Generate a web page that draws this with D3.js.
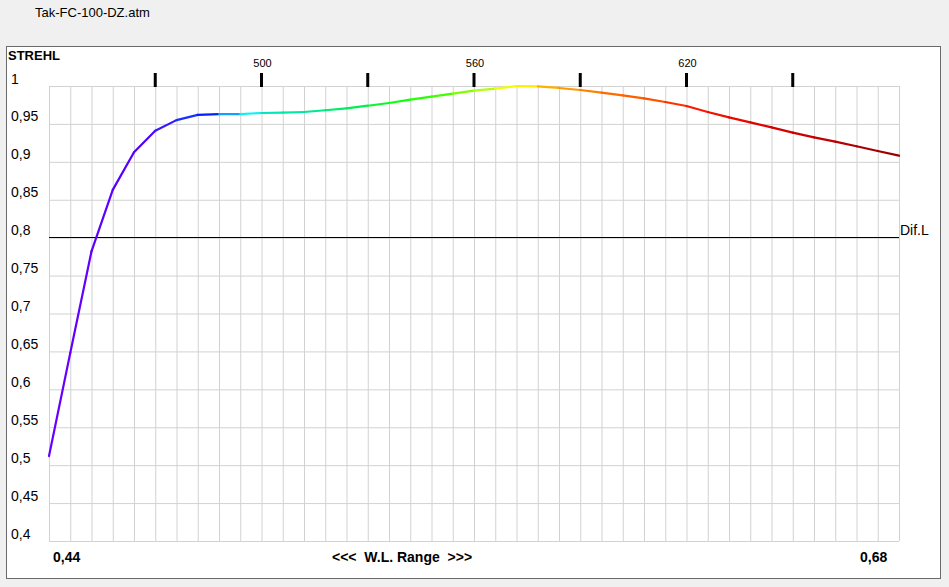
<!DOCTYPE html>
<html>
<head>
<meta charset="utf-8">
<script src="https://cdn.jsdelivr.net/npm/d3@7"></script>
<style>
  html, body { margin: 0; padding: 0; background: #f0f0f0; }
  svg { display: block; font-family: "Liberation Sans", Arial, sans-serif; }
  .grid line { stroke: #d2d2d2; stroke-width: 1; }
  .grid .domain { display: none; }
  .ylab .domain, .ylab line { display: none; }
  .ylab text { font-size: 14px; fill: #000; }
</style>
</head>
<body>
<div id="chart"></div>
<script>
(function () {
  const title = "Tak-FC-100-DZ.atm";

  // wavelength samples (nm) and Strehl ratio at each
  const wavelengths = [440, 446, 452, 458, 464, 470, 476, 482, 488, 494,
    500, 506, 512, 518, 524, 530, 536, 542, 548, 554,
    560, 566, 572, 578, 584, 590, 596, 602, 608, 614,
    620, 626, 632, 638, 644, 650, 656, 662, 668, 674, 680];
  const strehl = [0.512, 0.648, 0.782, 0.863, 0.9126, 0.941, 0.955, 0.962, 0.963, 0.963,
    0.9644, 0.9648, 0.9657, 0.968, 0.9706, 0.974, 0.9776, 0.982, 0.9859, 0.9899,
    0.9938, 0.9965, 0.9998, 0.9995, 0.9974, 0.9947, 0.9912, 0.9877, 0.9837, 0.9789,
    0.9736, 0.9657, 0.9587, 0.9521, 0.9455, 0.9385, 0.9323, 0.9266, 0.9205, 0.9143, 0.9081];

  const yTicks = [1, 0.95, 0.9, 0.85, 0.8, 0.75, 0.7, 0.65, 0.6, 0.55, 0.5, 0.45, 0.4];
  const yTickLabels = ["1", "0,95", "0,9", "0,85", "0,8", "0,75", "0,7", "0,65", "0,6", "0,55", "0,5", "0,45", "0,4"];
  const topTicks = [470, 500, 530, 560, 590, 620, 650];
  const topTickLabels = [500, 560, 620];
  const diffLimit = 0.8;

  // spectrum colour stops used for the curve
  const stopNm = [443, 467, 473, 479, 485, 491, 497, 503, 515, 527, 539, 551, 557, 563, 569, 575,
    581, 587, 593, 599, 611, 617, 623, 629, 641, 659, 677];
  const stopColors = ["#6800ff", "#5000ff", "#3418ff", "#1a30ff", "#0020ff", "#10a0ff", "#10f0f0", "#00e8b8",
    "#00e890", "#00f050", "#10ff10", "#40ff00", "#80ff00", "#b0ff10", "#eeff00", "#ffee00",
    "#ffb000", "#ff9900", "#ff8000", "#ff6a00", "#ff5000", "#ff3000", "#ff1800", "#f01000",
    "#e00000", "#c00000", "#9c0000"];

  const width = 949, height = 587;
  const plot = { left: 49, right: 899, top: 86, bottom: 541 };

  const svg = d3.select("#chart").append("svg")
    .attr("width", width)
    .attr("height", height);

  svg.append("text")
    .attr("x", 35).attr("y", 17)
    .style("font-size", "13px")
    .text(title);

  // white panel
  svg.append("rect")
    .attr("x", 6.5).attr("y", 46.5)
    .attr("width", 934).attr("height", 532)
    .attr("fill", "#fff")
    .attr("stroke", "#6a6a6a");

  const x = d3.scaleLinear().domain([440, 680]).range([plot.left, plot.right]);
  const y = d3.scaleLinear().domain([0.4, 1]).range([plot.bottom, plot.top]);
  const spectrum = d3.scaleLinear().domain(stopNm).range(stopColors).clamp(true);

  // grid
  svg.append("g")
    .attr("class", "grid")
    .attr("transform", `translate(${plot.left},0)`)
    .call(d3.axisLeft(y).tickValues(yTicks).tickSize(-(plot.right - plot.left)).tickFormat(""));

  svg.append("g")
    .attr("class", "grid")
    .attr("transform", `translate(0,${plot.bottom})`)
    .call(d3.axisBottom(x).tickValues(wavelengths).tickSize(-(plot.bottom - plot.top)).tickFormat(""));

  // y labels, left aligned
  const yl = svg.append("g")
    .attr("class", "ylab")
    .attr("transform", `translate(${plot.left},0)`)
    .call(d3.axisLeft(y).tickValues(yTicks).tickSize(0)
      .tickFormat((d, i) => yTickLabels[i]));
  yl.selectAll("text")
    .attr("text-anchor", "start")
    .attr("x", 11 - plot.left)
    .attr("y", -3)
    .attr("dy", 0);

  svg.append("text")
    .attr("x", 8).attr("y", 60)
    .style("font-size", "13px").style("font-weight", "bold")
    .text("STREHL");

  // top wavelength markers
  svg.selectAll(".wl-tick")
    .data(topTicks)
    .join("line")
    .attr("class", "wl-tick")
    .attr("x1", d => x(d)).attr("x2", d => x(d))
    .attr("y1", 73).attr("y2", 87)
    .attr("stroke", "#000")
    .attr("stroke-width", 3);

  svg.selectAll(".wl-label")
    .data(topTickLabels)
    .join("text")
    .attr("class", "wl-label")
    .attr("x", d => x(d) + 1)
    .attr("y", 67)
    .attr("text-anchor", "middle")
    .style("font-size", "11px")
    .text(d => d);

  // diffraction limit
  const yd = Math.floor(y(diffLimit)) + 0.5;
  svg.append("line")
    .attr("x1", plot.left).attr("x2", plot.right)
    .attr("y1", yd).attr("y2", yd)
    .attr("stroke", "#000");

  svg.append("text")
    .attr("x", 900).attr("y", 235)
    .style("font-size", "14px")
    .text("Dif.L");

  // coloured strehl curve, one segment per interval
  const segs = d3.pairs(wavelengths.map((w, i) => ({ w, s: strehl[i] })));
  svg.selectAll(".seg")
    .data(segs)
    .join("line")
    .attr("class", "seg")
    .attr("x1", d => x(d[0].w)).attr("y1", d => y(d[0].s))
    .attr("x2", d => x(d[1].w)).attr("y2", d => y(d[1].s))
    .attr("stroke", d => spectrum((d[0].w + d[1].w) / 2))
    .attr("stroke-width", 2.2)
    .attr("stroke-linecap", "round");

  // bottom labels
  svg.append("text")
    .attr("x", 53).attr("y", 562)
    .style("font-size", "14px").style("font-weight", "bold")
    .text("0,44");

  svg.append("text")
    .attr("x", 332).attr("y", 562)
    .attr("xml:space", "preserve")
    .style("white-space", "pre")
    .style("font-size", "14px").style("font-weight", "bold")
    .text("<<<  W.L. Range  >>>");

  svg.append("text")
    .attr("x", 860).attr("y", 562)
    .style("font-size", "14px").style("font-weight", "bold")
    .text("0,68");
})();
</script>
</body>
</html>
